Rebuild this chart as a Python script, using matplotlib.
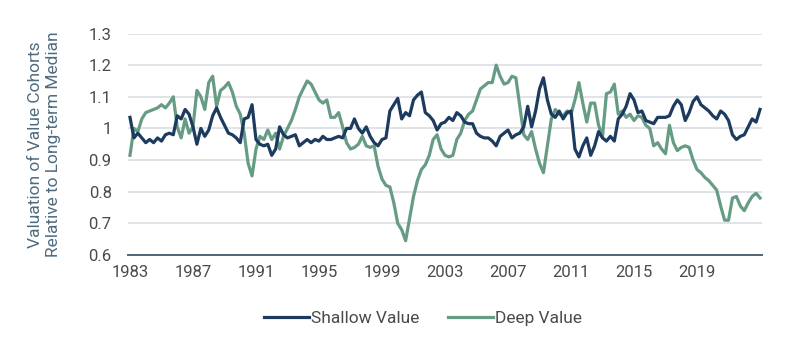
import numpy as np
import matplotlib
matplotlib.use("Agg")
import matplotlib.pyplot as plt
from matplotlib.ticker import FuncFormatter

plt.rcParams['font.family'] = ['Roboto', 'DejaVu Sans']

# Quarterly observations, 1983 Q1 through 2023 Q1
start_year = 1983
step = 0.25

shallow_value = [
    1.035, 0.97, 0.985, 0.97,   # 1983
    0.955, 0.965, 0.955, 0.97,  # 1984
    0.96, 0.98, 0.985, 0.98,    # 1985
    1.04, 1.03, 1.06, 1.045,    # 1986
    1.005, 0.95, 1.0, 0.975,    # 1987
    0.995, 1.04, 1.065, 1.035,  # 1988
    1.01, 0.985, 0.98, 0.97,    # 1989
    0.955, 1.03, 1.035, 1.075,  # 1990
    0.965, 0.95, 0.945, 0.95,   # 1991
    0.915, 0.935, 1.005, 0.98,  # 1992
    0.97, 0.975, 0.98, 0.945,   # 1993
    0.955, 0.965, 0.955, 0.965, # 1994
    0.96, 0.975, 0.965, 0.965,  # 1995
    0.97, 0.975, 0.97, 1.0,     # 1996
    1.0, 1.03, 1.0, 0.985,      # 1997
    1.005, 0.975, 0.955, 0.945, # 1998
    0.965, 0.97, 1.055, 1.075,  # 1999
    1.095, 1.03, 1.05, 1.04,    # 2000
    1.09, 1.105, 1.115, 1.05,   # 2001
    1.04, 1.025, 0.995, 1.015,  # 2002
    1.02, 1.035, 1.025, 1.05,   # 2003
    1.04, 1.02, 1.015, 1.015,   # 2004
    0.985, 0.975, 0.97, 0.97,   # 2005
    0.96, 0.945, 0.975, 0.985,  # 2006
    0.995, 0.97, 0.98, 0.985,   # 2007
    1.005, 1.07, 1.005, 1.055,  # 2008
    1.125, 1.16, 1.09, 1.045,   # 2009
    1.035, 1.055, 1.03, 1.05,   # 2010
    1.055, 0.935, 0.91, 0.945,  # 2011
    0.97, 0.915, 0.945, 0.99,   # 2012
    0.97, 0.96, 0.975, 0.96,    # 2013
    1.03, 1.045, 1.07, 1.11,    # 2014
    1.09, 1.05, 1.055, 1.025,   # 2015
    1.02, 1.015, 1.035, 1.035,  # 2016
    1.035, 1.04, 1.07, 1.09,    # 2017
    1.075, 1.025, 1.05, 1.085,  # 2018
    1.1, 1.075, 1.065, 1.055,   # 2019
    1.04, 1.03, 1.055, 1.045,   # 2020
    1.025, 0.98, 0.965, 0.975,  # 2021
    0.98, 1.005, 1.03, 1.02,    # 2022
    1.06,                       # 2023
]

deep_value = [
    0.915, 1.0, 0.99, 1.03,     # 1983
    1.05, 1.055, 1.06, 1.065,   # 1984
    1.075, 1.065, 1.08, 1.1,    # 1985
    1.005, 0.97, 1.03, 0.985,   # 1986
    1.005, 1.12, 1.1, 1.06,     # 1987
    1.145, 1.165, 1.07, 1.12,   # 1988
    1.13, 1.145, 1.115, 1.07,   # 1989
    1.045, 0.985, 0.89, 0.85,   # 1990
    0.935, 0.975, 0.965, 0.995, # 1991
    0.965, 0.985, 0.935, 0.975, # 1992
    1.0, 1.025, 1.06, 1.1,      # 1993
    1.125, 1.15, 1.14, 1.115,   # 1994
    1.09, 1.08, 1.09, 1.035,    # 1995
    1.035, 1.05, 1.005, 0.955,  # 1996
    0.935, 0.94, 0.95, 0.975,   # 1997
    0.945, 0.94, 0.945, 0.88,   # 1998
    0.84, 0.82, 0.815, 0.765,   # 1999
    0.7, 0.68, 0.645, 0.715,    # 2000
    0.785, 0.835, 0.87, 0.885,  # 2001
    0.915, 0.965, 0.98, 0.935,  # 2002
    0.915, 0.91, 0.915, 0.965,  # 2003
    0.985, 1.025, 1.045, 1.055, # 2004
    1.09, 1.125, 1.135, 1.145,  # 2005
    1.145, 1.2, 1.165, 1.14,    # 2006
    1.145, 1.165, 1.16, 1.07,   # 2007
    0.98, 0.965, 0.99, 0.935,   # 2008
    0.89, 0.86, 0.945, 1.03,    # 2009
    1.06, 1.045, 1.04, 1.055,   # 2010
    1.045, 1.09, 1.145, 1.08,   # 2011
    1.02, 1.08, 1.08, 1.01,     # 2012
    0.975, 1.11, 1.115, 1.14,   # 2013
    1.045, 1.055, 1.035, 1.045, # 2014
    1.025, 1.04, 1.035, 1.01,   # 2015
    1.0, 0.945, 0.955, 0.935,   # 2016
    0.92, 1.01, 0.955, 0.93,    # 2017
    0.94, 0.945, 0.94, 0.9,     # 2018
    0.87, 0.86, 0.845, 0.835,   # 2019
    0.82, 0.805, 0.755, 0.71,   # 2020
    0.71, 0.78, 0.785, 0.755,   # 2021
    0.74, 0.765, 0.785, 0.795,  # 2022
    0.78,                       # 2023
]

tick_years = [1983, 1987, 1991, 1995, 1999, 2003, 2007, 2011, 2015, 2019]
y_ticks = [0.6, 0.7, 0.8, 0.9, 1.0, 1.1, 1.2, 1.3]

series_names = ["Shallow Value", "Deep Value"]
colors = ["#1c3b5e", "#669c83"]
text_color = "#4a4a4a"
axis_label_color = "#4f6b7e"

t = start_year + step * np.arange(len(shallow_value))

W, H = 792, 342
fig = plt.figure(figsize=(W / 100, H / 100), dpi=100)
x_left, x_right = 128.4, 761.6
y_top, y_bot = 33.5, 255
ax = fig.add_axes([x_left / W, 1 - y_bot / H, (x_right - x_left) / W, (y_bot - y_top) / H])

ax.plot(t, shallow_value, color=colors[0], lw=2.3, label=series_names[0], zorder=3,
        solid_joinstyle="round")
ax.plot(t, deep_value, color=colors[1], lw=2.3, label=series_names[1], zorder=2,
        solid_joinstyle="round")

ax.set_xlim(1982.9, 2023.1)
ax.set_ylim(0.6, 1.3)
ax.set_xticks(tick_years)
ax.set_yticks(y_ticks)
ax.yaxis.set_major_formatter(FuncFormatter(lambda v, _: f"{v:g}"))

for v in y_ticks[1:]:
    ax.axhline(v, color="#dde2e7", lw=1.3, zorder=1)

for s in ["top", "right", "left"]:
    ax.spines[s].set_visible(False)
ax.spines["bottom"].set_color("#4f6577")
ax.spines["bottom"].set_linewidth(1.4)

ax.tick_params(axis="both", length=0, labelsize=12, labelcolor=text_color)
ax.tick_params(axis="y", pad=12)
ax.tick_params(axis="x", pad=7)

ax.set_ylabel("Valuation of Value Cohorts\nRelative to Long-term Median",
              fontsize=12.5, color=axis_label_color, labelpad=20, linespacing=1.2)

fig.legend(loc="center", bbox_to_anchor=(423 / W, 1 - 318 / H), ncol=2, frameon=False,
           fontsize=12.5, handlelength=2.6, handletextpad=0.15, columnspacing=1.6,
           labelcolor=text_color)

fig.savefig("out.png", dpi=100)
